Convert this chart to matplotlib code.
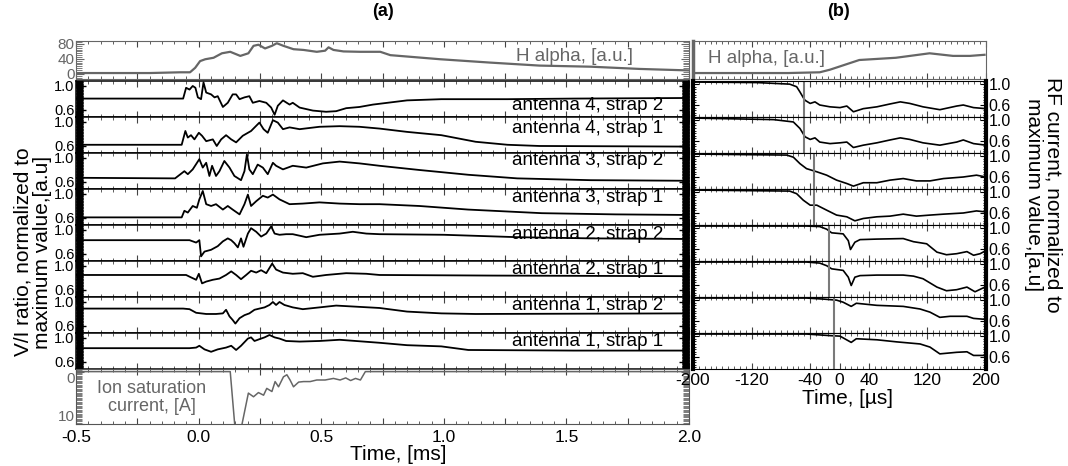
import matplotlib
matplotlib.use("Agg")
import matplotlib.pyplot as plt
from matplotlib.ticker import MultipleLocator, FixedLocator, FuncFormatter, NullFormatter

plt.rcParams['font.family'] = ['Liberation Sans', 'DejaVu Sans']
plt.rcParams['axes.unicode_minus'] = False

# ---- (a) H alpha, ms time base ----
ha_t = [-0.5, -0.20, -0.075, -0.035, -0.014, 0.006, 0.027, 0.061, 0.095, 0.129, 0.17, 0.203,
        0.224, 0.244, 0.271, 0.299, 0.319, 0.346, 0.387, 0.428, 0.482, 0.516, 0.53, 0.55,
        0.591, 0.659, 0.741, 0.782, 0.986, 1.19, 1.39, 1.60, 1.80, 2.0]
ha_v = [2, 2, 4, 4, 16, 34, 39, 43, 55, 59, 48, 55,
        75, 78, 68, 75, 82, 75, 66, 64, 59, 62, 71, 64,
        60, 59, 59, 50, 39, 30, 22, 19, 13, 9]

# ---- (a) V/I ratio traces, top to bottom ----
a4s2_t = [-0.5, -0.063, -0.051, -0.037, -0.024, -0.013, -0.003, 0.010, 0.020, 0.031, 0.051,
          0.065, 0.078, 0.099, 0.119, 0.139, 0.153, 0.167, 0.187, 0.207, 0.221, 0.248, 0.276,
          0.296, 0.310, 0.323, 0.344, 0.371, 0.384, 0.412, 0.466, 0.520, 0.561, 0.602, 0.656,
          0.711, 0.85, 0.99, 1.26, 1.53, 2.0]
a4s2_v = [0.79, 0.79, 0.97, 0.94, 1.00, 0.97, 0.81, 0.78, 1.06, 0.89, 0.86,
          0.81, 0.83, 0.65, 0.72, 0.86, 0.86, 0.78, 0.81, 0.83, 0.72, 0.75, 0.72,
          0.64, 0.52, 0.67, 0.76, 0.69, 0.72, 0.64, 0.59, 0.57, 0.58, 0.63, 0.65,
          0.69, 0.76, 0.78, 0.78, 0.79, 0.80]

a4s1_t = [-0.5, -0.069, -0.054, -0.044, -0.031, -0.017, 0.001, 0.014, 0.031, 0.058, 0.074,
          0.092, 0.112, 0.133, 0.153, 0.180, 0.214, 0.248, 0.265, 0.282, 0.303, 0.323, 0.344,
          0.371, 0.412, 0.493, 0.575, 0.656, 0.738, 0.85, 0.99, 1.13, 1.26, 1.39, 2.0]
a4s1_v = [0.62, 0.62, 0.85, 0.74, 0.78, 0.71, 0.82, 0.77, 0.68, 0.71, 0.60,
          0.71, 0.78, 0.71, 0.66, 0.77, 0.85, 0.99, 0.88, 0.82, 1.03, 0.99, 0.88,
          0.91, 0.88, 0.92, 0.93, 0.92, 0.89, 0.835, 0.78, 0.67, 0.62, 0.60, 0.59]

a3s2_t = [-0.5, -0.096, -0.058, -0.044, -0.024, 0.003, 0.017, 0.031, 0.044, 0.055, 0.071,
          0.085, 0.105, 0.126, 0.146, 0.173, 0.187, 0.197, 0.207, 0.221, 0.241, 0.262, 0.282,
          0.303, 0.316, 0.344, 0.384, 0.439, 0.507, 0.575, 0.656, 0.738, 0.90, 1.10, 1.30,
          1.60, 2.0]
a3s2_v = [0.67, 0.66, 0.78, 0.73, 0.81, 0.98, 0.84, 0.92, 0.70, 0.87, 0.70,
          0.78, 0.95, 0.84, 0.70, 0.63, 0.78, 1.06, 0.81, 0.73, 0.89, 0.84, 0.73,
          0.92, 0.87, 0.81, 0.87, 0.84, 0.91, 0.94, 0.91, 0.87, 0.80, 0.72, 0.66,
          0.63, 0.62]

a3s1_t = [-0.5, -0.069, -0.058, -0.044, -0.024, -0.007, 0.003, 0.017, 0.031, 0.051, 0.071,
          0.099, 0.119, 0.139, 0.167, 0.187, 0.201, 0.214, 0.235, 0.262, 0.282, 0.303, 0.330,
          0.371, 0.425, 0.493, 0.575, 0.656, 0.738, 0.90, 1.10, 1.40, 1.70, 2.0]
a3s1_v = [0.61, 0.61, 0.72, 0.69, 0.80, 0.77, 0.91, 1.05, 0.83, 0.80, 0.83,
          0.74, 0.80, 0.74, 0.66, 0.83, 0.99, 0.80, 0.88, 0.97, 0.94, 0.99, 0.91,
          0.83, 0.84, 0.86, 0.84, 0.83, 0.83, 0.80, 0.74, 0.68, 0.66, 0.65]

a2s2_t = [-0.5, -0.037, -0.010, 0.003, 0.010, 0.024, 0.051, 0.078, 0.099, 0.119, 0.133,
          0.146, 0.160, 0.173, 0.183, 0.201, 0.214, 0.235, 0.255, 0.276, 0.296, 0.310, 0.330,
          0.357, 0.384, 0.439, 0.493, 0.575, 0.629, 0.684, 0.738, 1.0, 1.3, 1.6, 2.0]
a2s2_v = [0.83, 0.83, 0.79, 0.83, 0.56, 0.64, 0.67, 0.73, 0.81, 0.86, 0.83,
          0.78, 0.71, 0.86, 0.72, 0.94, 1.03, 0.97, 0.89, 0.94, 1.06, 0.94, 0.92,
          0.93, 0.93, 0.88, 0.92, 0.94, 0.97, 0.94, 0.93, 0.92, 0.88, 0.86, 0.85]

a2s1_t = [-0.5, -0.051, -0.031, -0.010, 0.001, 0.014, 0.031, 0.058, 0.085, 0.112, 0.133,
          0.153, 0.173, 0.194, 0.214, 0.235, 0.255, 0.276, 0.300, 0.316, 0.344, 0.384, 0.425,
          0.466, 0.520, 0.602, 0.684, 0.738, 1.2, 2.0]
a2s1_v = [0.85, 0.85, 0.81, 0.77, 0.87, 0.71, 0.74, 0.77, 0.79, 0.85, 0.91,
          0.85, 0.78, 0.85, 0.92, 0.89, 0.93, 0.88, 1.04, 0.94, 0.89, 0.87, 0.88,
          0.82, 0.85, 0.88, 0.87, 0.85, 0.84, 0.83]

a1s2_t = [-0.5, -0.063, -0.037, -0.010, 0.031, 0.071, 0.099, 0.112, 0.126, 0.139, 0.150,
          0.167, 0.187, 0.207, 0.228, 0.248, 0.269, 0.289, 0.303, 0.316, 0.330, 0.350, 0.384,
          0.425, 0.493, 0.561, 0.738, 0.85, 0.99, 1.13, 2.0]
a1s2_v = [0.89, 0.89, 0.88, 0.82, 0.80, 0.80, 0.81, 0.87, 0.76, 0.70, 0.64,
          0.73, 0.78, 0.81, 0.87, 0.89, 0.91, 0.95, 1.00, 0.95, 1.00, 0.95, 0.91,
          0.88, 0.91, 0.94, 0.90, 0.84, 0.81, 0.80, 0.81]

a1s1_t = [-0.5, -0.037, -0.010, 0.003, 0.024, 0.051, 0.078, 0.112, 0.133, 0.153, 0.173,
          0.201, 0.214, 0.228, 0.248, 0.269, 0.289, 0.310, 0.330, 0.357, 0.412, 0.493, 0.575,
          0.738, 0.85, 0.99, 1.10, 1.53, 2.0]
a1s1_v = [0.83, 0.83, 0.84, 0.87, 0.81, 0.77, 0.81, 0.84, 0.87, 0.80, 0.87,
          0.99, 1.01, 0.95, 0.98, 1.01, 1.05, 1.01, 0.99, 0.95, 0.94, 0.95, 0.97,
          0.92, 0.88, 0.86, 0.80, 0.79, 0.79]

vi_labels = ["antenna 4, strap 2", "antenna 4, strap 1", "antenna 3, strap 2", "antenna 3, strap 1",
             "antenna 2, strap 2", "antenna 2, strap 1", "antenna 1, strap 2", "antenna 1, strap 1"]
vi_t = [a4s2_t, a4s1_t, a3s2_t, a3s1_t, a2s2_t, a2s1_t, a1s2_t, a1s1_t]
vi_v = [a4s2_v, a4s1_v, a3s2_v, a3s1_v, a2s2_v, a2s1_v, a1s2_v, a1s1_v]

# ---- (a) ion saturation current ----
ion_t = [-0.5, 0.129, 0.148, 0.175, 0.203, 0.224, 0.244, 0.265, 0.278, 0.299, 0.312, 0.326,
         0.346, 0.360, 0.373, 0.387, 0.408, 0.428, 0.455, 0.482, 0.516, 0.550, 0.577, 0.60,
         0.62, 0.64, 0.66, 0.68, 2.0]
ion_v = [0, 0, 10.5, 10.5, 4.1, 4.8, 4.0, 4.5, 3.2, 3.8, 1.9, 2.9,
         1.0, 0.6, 1.6, 2.9, 2.0, 1.9, 1.9, 1.6, 1.6, 1.3, 1.6, 1.2,
         1.7, 1.3, 1.6, 0, 0]

# ---- (b) H alpha, us time base ----
hb_t = [-200, -70, -27, -13, 27, 77, 123, 155, 178, 198]
hb_v = [2, 2, 4, 11, 37, 43, 55, 48, 48, 51]

# ---- (b) RF current traces, top to bottom ----
rf1_t = [-200, -113, -68, -58.5, -54, -49.4, -47, -40, -33.5, -27, -13, 0.7, 10, 19, 32.5,
         51, 69, 83, 96, 114, 137, 160, 169, 183, 200]
rf1_v = [1.04, 1.03, 1.00, 0.95, 0.85, 0.74, 0.69, 0.63, 0.66, 0.60, 0.565, 0.55, 0.58, 0.47, 0.53,
         0.565, 0.62, 0.66, 0.63, 0.565, 0.51, 0.58, 0.60, 0.55, 0.53]
rf2_t = [-200, -90, -63, -54, -47, -40, -33.5, -27, -13, 0.7, 10, 19, 32.5,
         51, 69, 83, 96, 114, 137, 160, 169, 183, 200]
rf2_v = [1.04, 1.01, 0.965, 0.84, 0.68, 0.63, 0.66, 0.58, 0.55, 0.565, 0.58, 0.475, 0.52,
         0.565, 0.62, 0.66, 0.63, 0.565, 0.52, 0.58, 0.62, 0.55, 0.52]
rf3_t = [-200, -72, -63, -54, -45, -31, -17.5, -4, 10, 19, 32.5, 51, 69, 87, 105, 123.5,
         142, 169, 187, 200]
rf3_v = [1.04, 1.02, 0.98, 0.856, 0.76, 0.70, 0.635, 0.54, 0.475, 0.425, 0.49, 0.49, 0.54,
         0.57, 0.525, 0.525, 0.57, 0.60, 0.635, 0.60]
rf4_t = [-200, -68, -58.5, -49.4, -40, -31, -17.5, -4, 10, 21, 32.5, 51, 69, 87, 105, 123.5,
         142, 169, 187, 200]
rf4_v = [1.04, 1.02, 0.97, 0.845, 0.75, 0.75, 0.654, 0.56, 0.527, 0.45, 0.495, 0.527, 0.54,
         0.578, 0.54, 0.56, 0.578, 0.60, 0.64, 0.62]
rf5_t = [-200, -45, -27, -17.5, -10.7, 5, 12, 15, 21, 28, 51, 87, 101, 119, 133, 146, 160,
         174, 183, 192, 200]
rf5_v = [1.04, 1.04, 1.03, 0.98, 0.91, 0.89, 0.76, 0.59, 0.73, 0.78, 0.79, 0.80, 0.74, 0.70,
         0.54, 0.49, 0.51, 0.55, 0.48, 0.51, 0.57]
rf6_t = [-200, -45, -27, -17.5, -10.7, 5, 12, 16, 21, 28, 51, 87, 101, 114, 133, 146, 160,
         174, 185, 200]
rf6_v = [1.04, 1.04, 1.02, 0.97, 0.91, 0.88, 0.75, 0.59, 0.75, 0.78, 0.79, 0.79, 0.77, 0.72,
         0.56, 0.49, 0.51, 0.56, 0.47, 0.57]
rf7_t = [-200, -45, -22, -4, 5, 16, 23, 51, 87, 110, 123.5, 137, 151, 174, 183, 200]
rf7_v = [1.04, 1.04, 1.02, 1.00, 0.96, 0.88, 0.94, 0.90, 0.88, 0.83, 0.77, 0.67, 0.69, 0.69,
         0.65, 0.63]
rf8_t = [-200, -45, -13, 0.7, 16, 23, 51, 78, 110, 123.5, 137, 160, 174, 183, 200]
rf8_v = [1.04, 1.04, 1.01, 1.00, 0.88, 0.95, 0.93, 0.89, 0.85, 0.79, 0.66, 0.69, 0.70, 0.63,
         0.63]
rf_t = [rf1_t, rf2_t, rf3_t, rf4_t, rf5_t, rf6_t, rf7_t, rf8_t]
rf_v = [rf1_v, rf2_v, rf3_v, rf4_v, rf5_v, rf6_v, rf7_v, rf8_v]
# breakdown time marker for each antenna (two straps each)
rf_event = [-48, -48, -35, -35, -14, -14, -7.5, -7.5]

W, H = 1068, 466
fig = plt.figure(figsize=(W / 100, H / 100), dpi=100)


def box(x0, y0, x1, y1):
    return [x0 / W, 1 - y1 / H, (x1 - x0) / W, (y1 - y0) / H]


GRAY = '#666666'
LX0, LX1 = 76, 689
RX0, RX1 = 693, 986
label_y = [0.31, 0.68, 0.79, 0.77, 0.73, 0.75, 0.75, 0.75]


def x_ticks_ms(ax, labels=False):
    ax.set_xlim(-0.5, 2.0)
    ax.xaxis.set_major_locator(MultipleLocator(0.25))
    ax.xaxis.set_minor_locator(MultipleLocator(0.05))
    ax.tick_params(axis='x', which='both', direction='in', top=True, bottom=True, color='#444444')
    ax.tick_params(axis='x', which='major', length=4, width=0.8)
    ax.tick_params(axis='x', which='minor', length=2, width=0.6)
    if labels:
        ax.xaxis.set_major_formatter(FuncFormatter(
            lambda x, p: f"{x:.1f}" if abs(x * 2 - round(x * 2)) < 1e-6 else ""))
        ax.tick_params(axis='x', which='major', labelsize=12.5, pad=4)
    else:
        ax.xaxis.set_major_formatter(NullFormatter())


def x_ticks_us(ax, labels=False):
    ax.set_xlim(-200, 200)
    ax.xaxis.set_major_locator(FixedLocator([-200, -120, -40, 0, 40, 120, 200]))
    ax.xaxis.set_minor_locator(MultipleLocator(8))
    ax.tick_params(axis='x', which='both', direction='in', top=True, bottom=True, color='#444444')
    ax.tick_params(axis='x', which='major', length=4, width=0.8)
    ax.tick_params(axis='x', which='minor', length=2, width=0.6)
    if labels:
        ax.tick_params(axis='x', which='major', labelsize=12.5, pad=3)
    else:
        ax.xaxis.set_major_formatter(NullFormatter())


# H alpha in (a)
ax = fig.add_axes(box(LX0, 41, LX1, 79))
ax.plot(ha_t, ha_v, color=GRAY, lw=1.6)
ax.set_ylim(-14, 88)
ax.set_yticks([0, 40, 80])
ax.yaxis.set_minor_locator(MultipleLocator(5))
ax.tick_params(axis='y', which='both', direction='in', left=True, right=True, color=GRAY,
               labelcolor=GRAY, labelsize=11, pad=1)
ax.tick_params(axis='y', which='major', length=6)
ax.tick_params(axis='y', which='minor', length=4)
x_ticks_ms(ax)
for s in ax.spines.values():
    s.set_color(GRAY)
ax.text(0.909, 0.58, "H alpha, [a.u.]", transform=ax.transAxes, ha='right', va='center',
        color=GRAY, fontsize=13.5)

# V/I panels in (a)
for k in range(8):
    ax = fig.add_axes(box(LX0, 81 + 36 * k, LX1, 117 + 36 * k))
    ax.plot(vi_t[k], vi_v[k], color='black', lw=1.3)
    ax.set_ylim(0.483, 1.083)
    ax.set_yticks([0.6, 1.0])
    ax.set_yticklabels(["0.6", "1.0"])
    ax.yaxis.set_minor_locator(MultipleLocator(0.01))
    ax.tick_params(axis='y', which='both', direction='in', left=True, right=True,
                   color='black', labelsize=10.5, pad=1)
    ax.tick_params(axis='y', which='major', length=7, width=1)
    ax.tick_params(axis='y', which='minor', length=5, width=0.8)
    x_ticks_ms(ax)
    for s in ax.spines.values():
        s.set_linewidth(1.1)
    ax.text(0.958, label_y[k], vi_labels[k], transform=ax.transAxes, ha='right', va='center',
            fontsize=13.5)

# ion saturation current in (a)
ax = fig.add_axes(box(LX0, 369, LX1, 424))
ax.plot(ion_t, ion_v, color=GRAY, lw=1.1)
ax.set_ylim(10, -0.5)
ax.set_yticks([0, 10])
ax.yaxis.set_minor_locator(MultipleLocator(0.25))
ax.tick_params(axis='y', which='both', direction='in', left=True, right=True, color=GRAY,
               labelcolor=GRAY, labelsize=11, pad=1)
ax.tick_params(axis='y', which='major', length=6)
ax.tick_params(axis='y', which='minor', length=4, width=0.6)
ax.get_yticklabels()[0].set_va('top')
ax.get_yticklabels()[1].set_va('bottom')
x_ticks_ms(ax, labels=True)
for s in ax.spines.values():
    s.set_color('#555555')
ax.text(0.124, 0.48, "Ion saturation\ncurrent, [A]", transform=ax.transAxes, ha='center',
        va='center', color=GRAY, fontsize=13, linespacing=1.1)

# H alpha in (b)
ax = fig.add_axes(box(RX0, 41, RX1, 79))
ax.plot(hb_t, hb_v, color=GRAY, lw=1.6)
ax.set_ylim(-14, 88)
ax.set_yticks([])
x_ticks_us(ax)
for s in ax.spines.values():
    s.set_color(GRAY)
ax.spines['left'].set_linewidth(2.5)
ax.text(0.05, 0.55, "H alpha, [a.u.]", transform=ax.transAxes, ha='left', va='center',
        color=GRAY, fontsize=13.5)

# RF current panels in (b)
for k in range(8):
    ax = fig.add_axes(box(RX0, 81 + 36 * k, RX1, 117 + 36 * k))
    ax.plot(rf_t[k], rf_v[k], color='black', lw=1.2)
    ax.axvline(rf_event[k], color='#7a7a7a', lw=1.5)
    ax.set_ylim(0.37, 1.06)
    ax.set_yticks([0.6, 1.0])
    ax.set_yticklabels(["0.6", "1.0"])
    ax.yaxis.set_minor_locator(MultipleLocator(0.05))
    ax.tick_params(axis='y', which='both', direction='in', left=True, right=True,
                   labelleft=False, labelright=True, labelsize=11.5, pad=2)
    ax.tick_params(axis='y', which='major', length=4)
    ax.tick_params(axis='y', which='minor', length=2.5, width=0.6)
    x_ticks_us(ax, labels=(k == 7))
    ax.spines['left'].set_linewidth(3)
    ax.spines['right'].set_linewidth(3)

fig.text(383 / W, 1 - 12 / H, "(a)", ha='center', va='center', fontsize=13, fontweight='bold')
fig.text(838 / W, 1 - 12 / H, "(b)", ha='center', va='center', fontsize=13, fontweight='bold')
fig.text(398 / W, 1 - 454 / H, "Time, [ms]", ha='center', va='center', fontsize=15)
fig.text(848 / W, 1 - 398 / H, "Time, [\u00b5s]", ha='center', va='center', fontsize=15)
fig.text(33 / W, 1 - 252 / H, "V/I ratio, normalized to\nmaximum value,[a.u]", rotation=90,
         ha='center', va='center', multialignment='center', fontsize=15, linespacing=1.05)
fig.text(1043 / W, 1 - 195 / H, "RF current, normalized to\nmaximum value,[a.u]", rotation=270,
         ha='center', va='center', multialignment='center', fontsize=15, linespacing=1.05)

fig.savefig("out.png", dpi=100)
